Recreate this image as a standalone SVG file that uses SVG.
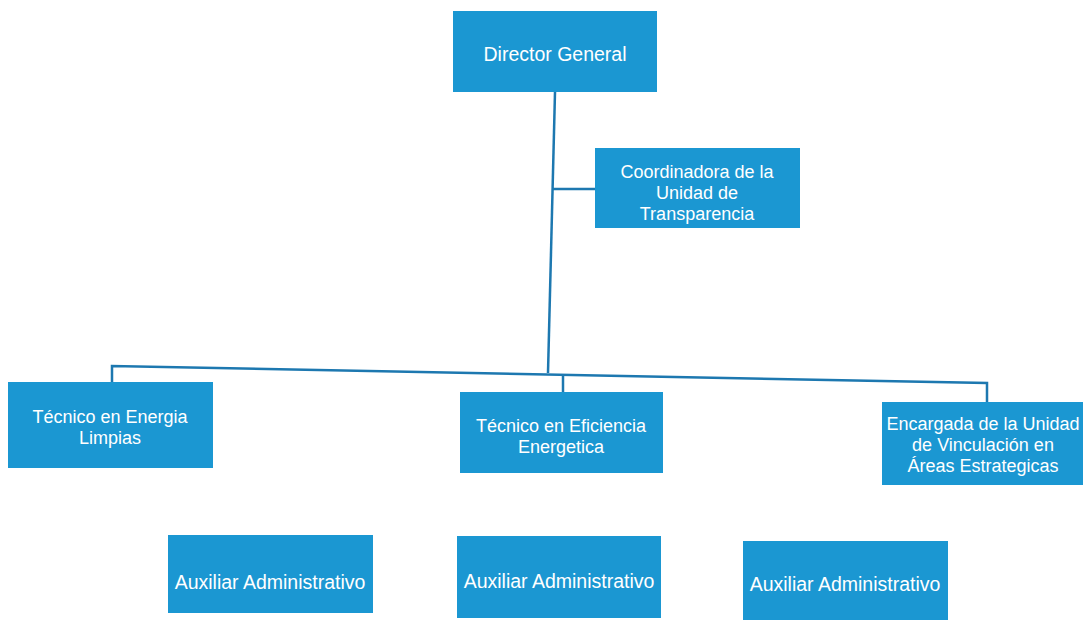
<svg xmlns="http://www.w3.org/2000/svg" width="1088" height="620" viewBox="0 0 1088 620">
<style>
.box{fill:#1b97d2;}
.t{font-family:"Liberation Sans",Arial,sans-serif;font-size:18px;fill:#ffffff;text-anchor:middle;}
.big{font-size:19.5px;}
.ln{stroke:#1d78b0;stroke-width:2.5;fill:none;}
</style>
<rect width="1088" height="620" fill="#ffffff"/>
<g id="connectors">
<line class="ln" x1="555" y1="92" x2="548" y2="373"/>
<line class="ln" x1="552" y1="189" x2="595" y2="189"/>
<polyline class="ln" points="112,382 112,366 987,383 987,402"/>
<line class="ln" x1="563" y1="375" x2="563" y2="392"/>
</g>
<g id="director">
<rect class="box" x="453" y="11" width="204" height="81"/>
<text class="t big" x="555" y="61">Director General</text>
</g>
<g id="coordinadora">
<rect class="box" x="595" y="148" width="205" height="80"/>
<text class="t" x="697" y="178">Coordinadora de la</text>
<text class="t" x="697" y="199">Unidad de</text>
<text class="t" x="697" y="220">Transparencia</text>
</g>
<g id="tecnico-energia">
<rect class="box" x="8" y="382" width="205" height="86"/>
<text class="t" x="110" y="423">Técnico en Energia</text>
<text class="t" x="110" y="444">Limpias</text>
</g>
<g id="tecnico-eficiencia">
<rect class="box" x="460" y="392" width="203" height="81"/>
<text class="t" x="561" y="432">Técnico en Eficiencia</text>
<text class="t" x="561" y="453">Energetica</text>
</g>
<g id="encargada">
<rect class="box" x="882" y="402" width="201" height="83"/>
<text class="t" x="983" y="430">Encargada de la Unidad</text>
<text class="t" x="983" y="451">de Vinculación en</text>
<text class="t" x="983" y="472">Áreas Estrategicas</text>
</g>
<g id="auxiliar-1">
<rect class="box" x="168" y="535" width="205" height="78"/>
<text class="t big" x="270" y="589">Auxiliar Administrativo</text>
</g>
<g id="auxiliar-2">
<rect class="box" x="457" y="536" width="204" height="82"/>
<text class="t big" x="559" y="588">Auxiliar Administrativo</text>
</g>
<g id="auxiliar-3">
<rect class="box" x="743" y="541" width="205" height="79"/>
<text class="t big" x="845" y="591">Auxiliar Administrativo</text>
</g>
</svg>
